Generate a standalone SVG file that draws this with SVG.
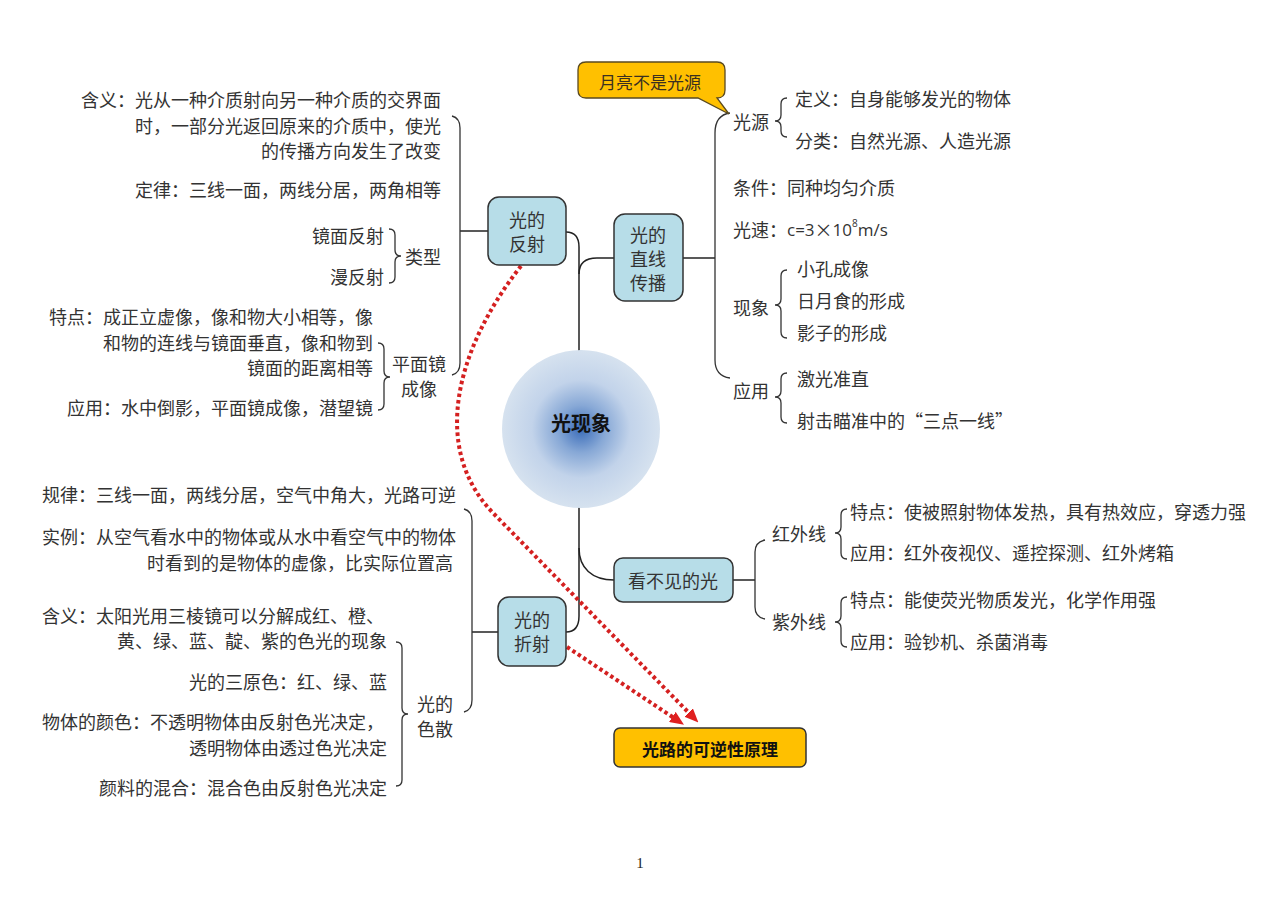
<svg xmlns="http://www.w3.org/2000/svg" width="1280" height="905" viewBox="0 0 1280 905">
<defs>
<radialGradient id="sun" cx="50%" cy="50%" r="50%">
<stop offset="0" stop-color="#3A6CB9"/>
<stop offset="0.3" stop-color="#87A8D6"/>
<stop offset="0.62" stop-color="#C2D3EA"/>
<stop offset="1" stop-color="#D6E2EF"/>
</radialGradient>
<marker id="ah" markerWidth="14" markerHeight="12" refX="2" refY="6" orient="auto" markerUnits="userSpaceOnUse">
<path d="M0,0 L14,6 L0,12 Z" fill="#E02020"/>
</marker>
<style>
text{font-family:"Noto Sans CJK SC","Noto Sans",sans-serif;fill:#333;}
.lf{font-size:18px;dominant-baseline:central;}
.bx{font-size:18px;dominant-baseline:central;text-anchor:middle;}
.e{text-anchor:end;}
.m{text-anchor:middle;}
.node{fill:#B7DDE8;stroke:#333;stroke-width:1.5;}
.ln{fill:none;stroke:#222;stroke-width:1.5;}
.br{fill:none;stroke:#333;stroke-width:1.3;}
.dot{fill:none;stroke:#D42020;stroke-width:4;stroke-dasharray:3.5 3;}
.num{font-family:'Open Sans','Liberation Sans',sans-serif;font-size:17px;}
</style>
</defs>
<rect width="1280" height="905" fill="#fff"/>

<g id="connectors">
<path class="ln" d="M566,232 Q579,232 579,247 L579,353"/>
<path class="ln" d="M579,274 Q579,258 597,258 L614,258"/>
<path class="ln" d="M579,507 L579,616 Q579,632 566,632"/>
<path class="ln" d="M579,548 C579,568 592,580 614,580"/>
<path class="ln" d="M488,231 L460,231"/>
<path class="ln" d="M683,258 L715,258"/>
<path class="ln" d="M498,632 L472,632"/>
<path class="ln" d="M733,580 L755,580"/>
<path class="br" d="M452,116 Q460,118 460,128 L460,363 Q460,373 452,375"/>
<path class="br" d="M730,113 Q715,115 715,133 L715,360 Q715,376 730,378"/>
<path class="br" d="M464,509 Q472,511 472,521 L472,700 Q472,710 464,712"/>
<path class="br" d="M765,540 Q755,542 755,552 L755,607 Q755,617 765,619"/>
<path class="br" d="M389,229 Q395,229 395,235 L395,250 Q395,256 401,256 Q395,256 395,262 L395,277 Q395,283 389,283"/>
<path class="br" d="M378,343 Q384,343 384,349 L384,371 Q384,377 390,377 Q384,377 384,383 L384,404 Q384,410 378,410"/>
<path class="br" d="M396,642 Q402,642 402,648 L402,708 Q402,714 408,714 Q402,714 402,720 L402,780 Q402,786 396,786"/>
<path class="br" d="M787,98 Q781,98 781,104 L781,115 Q781,121 775,121 Q781,121 781,127 L781,131 Q781,137 787,137"/>
<path class="br" d="M787,270 Q781,270 781,276 L781,299 Q781,305 775,305 Q781,305 781,311 L781,332 Q781,338 787,338"/>
<path class="br" d="M787,373 Q781,373 781,379 L781,391 Q781,397 775,397 Q781,397 781,403 L781,417 Q781,423 787,423"/>
<path class="br" d="M847,509 Q841,509 841,515 L841,527 Q841,533 835,533 Q841,533 841,539 L841,553 Q841,559 847,559"/>
<path class="br" d="M847,597 Q841,597 841,603 L841,616 Q841,622 835,622 Q841,622 841,628 L841,641 Q841,647 847,647"/>
<path class="dot" d="M521,266 C455,350 430,450 495,515 L690,714" marker-end="url(#ah)"/>
<path class="dot" d="M567,647 L674,718" marker-end="url(#ah)"/>
</g>

<g id="center">
<circle cx="581" cy="429" r="79" fill="url(#sun)"/>
<text x="581" y="422" class="m" style="font-size:20px;font-weight:bold;fill:#111;dominant-baseline:central">光现象</text>
</g>

<g id="n-reflect">
<rect class="node" x="488" y="197" width="78" height="68" rx="11"/>
<text class="bx"><tspan x="527" y="219">光的</tspan><tspan x="527" y="243">反射</tspan></text>
</g>

<g id="n-straight">
<rect class="node" x="614" y="214" width="69" height="87" rx="11"/>
<text class="bx"><tspan x="648" y="234">光的</tspan><tspan x="648" y="258">直线</tspan><tspan x="648" y="282">传播</tspan></text>
</g>

<g id="n-invisible">
<rect class="node" x="614" y="558" width="119" height="44" rx="9"/>
<text class="bx" x="673" y="580">看不见的光</text>
</g>

<g id="n-refract">
<rect class="node" x="498" y="597" width="68" height="69" rx="11"/>
<text class="bx"><tspan x="532" y="619">光的</tspan><tspan x="532" y="643">折射</tspan></text>
</g>

<g id="n-reversible">
<rect x="614" y="728" width="192" height="39" rx="6" fill="#FFC000" stroke="#333" stroke-width="1.5"/>
<text class="bx" x="710" y="748" style="font-weight:bold;fill:#111;font-size:17px">光路的可逆性原理</text>
</g>

<g id="callout">
<path d="M586,62 H717 Q725,62 725,70 V90 Q725,98 717,98 L729,114 L698,98 H586 Q578,98 578,90 V70 Q578,62 586,62 Z" fill="#FFC000" stroke="#5A4A20" stroke-width="1.3"/>
<text class="bx" x="650" y="81" style="fill:#3A3020;font-size:17px">月亮不是光源</text>
</g>

<g id="reflect-leaves">
<text class="lf e"><tspan x="441" y="99">含义：光从一种介质射向另一种介质的交界面</tspan><tspan x="441" y="124.5">时，一部分光返回原来的介质中，使光</tspan><tspan x="441" y="150">的传播方向发生了改变</tspan></text>
<text class="lf e" x="441" y="189">定律：三线一面，两线分居，两角相等</text>
<text class="lf e" x="384" y="235">镜面反射</text>
<text class="lf e" x="384" y="276">漫反射</text>
<text class="lf" x="405" y="256">类型</text>
<text class="lf e"><tspan x="373" y="316">特点：成正立虚像，像和物大小相等，像</tspan><tspan x="373" y="341.5">和物的连线与镜面垂直，像和物到</tspan><tspan x="373" y="367">镜面的距离相等</tspan></text>
<text class="lf e" x="373" y="407">应用：水中倒影，平面镜成像，潜望镜</text>
<text class="lf m"><tspan x="419" y="362.5">平面镜</tspan><tspan x="419" y="387.5">成像</tspan></text>
</g>

<g id="refract-leaves">
<text class="lf" x="42" y="494">规律：三线一面，两线分居，空气中角大，光路可逆</text>
<text class="lf"><tspan x="42" y="536">实例：从空气看水中的物体或从水中看空气中的物体</tspan><tspan x="453" y="561.5" text-anchor="end">时看到的是物体的虚像，比实际位置高</tspan></text>
<text class="lf"><tspan x="42" y="614.5">含义：太阳光用三棱镜可以分解成红、橙、</tspan><tspan x="387" y="640" text-anchor="end">黄、绿、蓝、靛、紫的色光的现象</tspan></text>
<text class="lf e" x="387" y="681">光的三原色：红、绿、蓝</text>
<text class="lf"><tspan x="42" y="721">物体的颜色：不透明物体由反射色光决定，</tspan><tspan x="387" y="746.5" text-anchor="end">透明物体由透过色光决定</tspan></text>
<text class="lf e" x="387" y="787">颜料的混合：混合色由反射色光决定</text>
<text class="lf m"><tspan x="435" y="702.5">光的</tspan><tspan x="435" y="728">色散</tspan></text>
</g>

<g id="straight-leaves">
<text class="lf" x="733" y="121">光源</text>
<text class="lf" x="795" y="98">定义：自身能够发光的物体</text>
<text class="lf" x="795" y="140">分类：自然光源、人造光源</text>
<text class="lf" x="733" y="187">条件：同种均匀介质</text>
<text class="lf" x="733" y="229">光速：<tspan class="num">c=3</tspan>×<tspan class="num">10</tspan><tspan class="num" dy="-6" style="font-size:10px">8</tspan><tspan class="num" dy="6">m/s</tspan></text>
<text class="lf" x="733" y="307">现象</text>
<text class="lf" x="797" y="268">小孔成像</text>
<text class="lf" x="797" y="300">日月食的形成</text>
<text class="lf" x="797" y="332">影子的形成</text>
<text class="lf" x="733" y="390">应用</text>
<text class="lf" x="797" y="378">激光准直</text>
<text class="lf" x="797" y="420">射击瞄准中的“三点一线”</text>
</g>

<g id="invisible-leaves">
<text class="lf" x="772" y="533">红外线</text>
<text class="lf" x="850" y="511">特点：使被照射物体发热，具有热效应，穿透力强</text>
<text class="lf" x="850" y="552">应用：红外夜视仪、遥控探测、红外烤箱</text>
<text class="lf" x="772" y="621">紫外线</text>
<text class="lf" x="850" y="599">特点：能使荧光物质发光，化学作用强</text>
<text class="lf" x="850" y="641">应用：验钞机、杀菌消毒</text>
</g>

<text x="640" y="868" class="m" style="font-family:'Liberation Serif',serif;font-size:15px;fill:#222">1</text>
</svg>
